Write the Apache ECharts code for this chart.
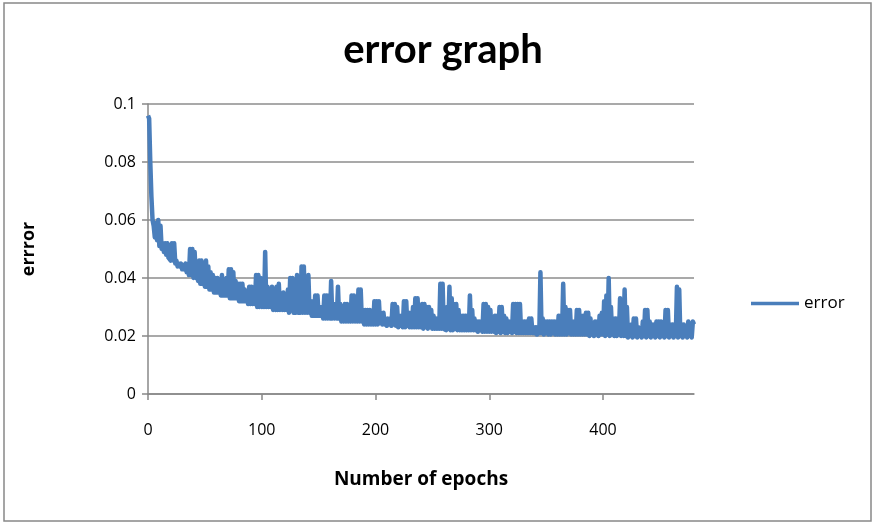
<!DOCTYPE html>
<html>
<head>
<meta charset="utf-8">
<script src="https://cdn.jsdelivr.net/npm/echarts@6/dist/echarts.min.js"></script>
<style>html,body{margin:0;padding:0;background:#fff}#chart{width:876px;height:525px}</style>
</head>
<body>
<div id="chart"></div>
<script>
// One value per epoch (0..480), 20 epochs per row
const xTickLabels = [0, 100, 200, 300, 400];
const yTickLabels = [0, 0.02, 0.04, 0.06, 0.08, 0.1];
const seriesName = 'error';
const errorValues = [
  0.096, 0.095, 0.080, 0.068, 0.060, 0.058, 0.054, 0.059, 0.053, 0.060, 0.051, 0.058, 0.050, 0.052, 0.049, 0.052, 0.048, 0.052, 0.047, 0.047,
  0.046, 0.052, 0.046, 0.052, 0.045, 0.046, 0.044, 0.045, 0.044, 0.045, 0.043, 0.044, 0.043, 0.045, 0.042, 0.044, 0.041, 0.050, 0.041, 0.050,
  0.040, 0.049, 0.040, 0.045, 0.039, 0.046, 0.038, 0.046, 0.038, 0.045, 0.037, 0.046, 0.037, 0.044, 0.036, 0.042, 0.036, 0.041, 0.035, 0.040,
  0.035, 0.040, 0.035, 0.039, 0.034, 0.041, 0.034, 0.039, 0.034, 0.040, 0.034, 0.043, 0.033, 0.043, 0.033, 0.042, 0.033, 0.039, 0.033, 0.038,
  0.032, 0.038, 0.032, 0.038, 0.032, 0.036, 0.032, 0.035, 0.031, 0.037, 0.031, 0.037, 0.031, 0.036, 0.031, 0.041, 0.030, 0.041, 0.030, 0.040,
  0.030, 0.036, 0.030, 0.049, 0.030, 0.037, 0.030, 0.036, 0.030, 0.037, 0.029, 0.035, 0.029, 0.037, 0.029, 0.038, 0.029, 0.034, 0.029, 0.035,
  0.029, 0.034, 0.029, 0.036, 0.028, 0.040, 0.029, 0.040, 0.028, 0.039, 0.028, 0.041, 0.028, 0.039, 0.028, 0.044, 0.028, 0.044, 0.028, 0.036,
  0.028, 0.041, 0.028, 0.032, 0.027, 0.032, 0.027, 0.034, 0.027, 0.034, 0.027, 0.030, 0.027, 0.030, 0.026, 0.034, 0.026, 0.034, 0.026, 0.034,
  0.026, 0.039, 0.026, 0.031, 0.026, 0.031, 0.026, 0.037, 0.026, 0.031, 0.025, 0.030, 0.025, 0.031, 0.025, 0.031, 0.025, 0.028, 0.025, 0.034,
  0.025, 0.034, 0.025, 0.030, 0.025, 0.036, 0.025, 0.036, 0.025, 0.029, 0.024, 0.029, 0.024, 0.029, 0.024, 0.029, 0.024, 0.027, 0.024, 0.032,
  0.024, 0.032, 0.024, 0.032, 0.0245, 0.027, 0.024, 0.028, 0.024, 0.026, 0.0235, 0.026, 0.024, 0.026, 0.0235, 0.031, 0.024, 0.031, 0.0235, 0.030,
  0.023, 0.027, 0.0235, 0.027, 0.023, 0.032, 0.023, 0.032, 0.0235, 0.028, 0.023, 0.028, 0.023, 0.030, 0.023, 0.033, 0.023, 0.033, 0.023, 0.030,
  0.023, 0.031, 0.0225, 0.031, 0.023, 0.030, 0.0225, 0.030, 0.023, 0.029, 0.0225, 0.027, 0.0225, 0.026, 0.0225, 0.026, 0.0225, 0.038, 0.0225, 0.038,
  0.0225, 0.023, 0.022, 0.030, 0.0225, 0.037, 0.022, 0.033, 0.022, 0.031, 0.0225, 0.031, 0.022, 0.029, 0.022, 0.027, 0.022, 0.027, 0.022, 0.027,
  0.022, 0.027, 0.022, 0.034, 0.022, 0.029, 0.022, 0.026, 0.022, 0.025, 0.0215, 0.025, 0.022, 0.025, 0.0215, 0.031, 0.0215, 0.031, 0.0215, 0.030,
  0.0215, 0.029, 0.0215, 0.026, 0.0215, 0.027, 0.021, 0.027, 0.0215, 0.030, 0.021, 0.030, 0.0215, 0.027, 0.021, 0.026, 0.021, 0.025, 0.0215, 0.025,
  0.021, 0.031, 0.0215, 0.031, 0.021, 0.031, 0.021, 0.031, 0.021, 0.025, 0.021, 0.025, 0.021, 0.025, 0.021, 0.026, 0.021, 0.026, 0.021, 0.023,
  0.021, 0.023, 0.0205, 0.023, 0.021, 0.042, 0.021, 0.026, 0.0205, 0.025, 0.021, 0.025, 0.0205, 0.025, 0.0205, 0.025, 0.021, 0.025, 0.0205, 0.025,
  0.0205, 0.027, 0.0205, 0.027, 0.0205, 0.038, 0.0205, 0.030, 0.0205, 0.029, 0.021, 0.029, 0.0205, 0.025, 0.0205, 0.025, 0.0205, 0.029, 0.0205, 0.029,
  0.0205, 0.027, 0.0205, 0.027, 0.0205, 0.028, 0.0205, 0.028, 0.020, 0.026, 0.0205, 0.023, 0.020, 0.025, 0.0205, 0.025, 0.020, 0.027, 0.0205, 0.028,
  0.0205, 0.032, 0.020, 0.034, 0.0205, 0.040, 0.020, 0.030, 0.0205, 0.026, 0.020, 0.026, 0.020, 0.026, 0.0205, 0.033, 0.020, 0.030, 0.020, 0.036,
  0.020, 0.030, 0.0195, 0.021, 0.020, 0.024, 0.0195, 0.026, 0.020, 0.026, 0.0195, 0.023, 0.020, 0.022, 0.0195, 0.025, 0.020, 0.029, 0.0195, 0.029,
  0.020, 0.025, 0.0195, 0.024, 0.020, 0.024, 0.0195, 0.025, 0.020, 0.025, 0.0195, 0.025, 0.020, 0.024, 0.0195, 0.029, 0.020, 0.029, 0.0195, 0.024,
  0.020, 0.024, 0.0195, 0.024, 0.020, 0.037, 0.0195, 0.036, 0.020, 0.024, 0.0195, 0.024, 0.020, 0.022, 0.0195, 0.025, 0.020, 0.022, 0.0195, 0.025,
  0.024
];
const xMax = 480;

const chart = echarts.init(document.getElementById('chart'), null, {renderer: 'canvas'});
const seriesData = errorValues.map((v, i) => [i, v]);
const TITLE_FONT = 'Lato, "Liberation Sans", sans-serif';
const FONT = '"Open Sans", "Liberation Sans", sans-serif';

chart.setOption({
  animation: false,
  backgroundColor: '#fff',
  title: {
    text: 'error graph',
    left: 438, top: 25, textAlign: 'center',
    textStyle: {fontFamily: TITLE_FONT, fontSize: 40, fontWeight: 'bold', color: '#000'}
  },
  legend: {
    data: [{name: seriesName, icon: 'rect'}],
    left: 746, top: 290,
    itemWidth: 48, itemHeight: 3.5, itemGap: 10,
    textStyle: {fontFamily: FONT, fontSize: 17, color: '#000'}
  },
  grid: {left: 148, right: 182, top: 104, bottom: 131, containLabel: false},
  xAxis: {
    type: 'value', min: 0, max: xMax, interval: 100,
    name: 'Number of epochs', nameLocation: 'middle', nameGap: 76,
    nameTextStyle: {fontFamily: FONT, fontSize: 19, fontWeight: 'bold', color: '#000', verticalAlign: 'top'},
    axisLine: {show: true, lineStyle: {color: '#888', width: 1.5}},
    axisTick: {show: true, inside: false, length: 6, lineStyle: {color: '#888', width: 1.5}, customValues: xTickLabels},
    axisLabel: {margin: 28, fontFamily: FONT, fontSize: 16, color: '#000', customValues: xTickLabels},
    splitLine: {show: false}
  },
  yAxis: {
    type: 'value', min: 0, max: 0.1, interval: 0.02,
    name: 'errror', nameLocation: 'middle', nameGap: 110, nameRotate: 90,
    nameTextStyle: {fontFamily: FONT, fontSize: 18, fontWeight: 'bold', color: '#000'},
    axisLine: {show: true, lineStyle: {color: '#888', width: 1.5}},
    axisTick: {show: true, inside: false, length: 6, lineStyle: {color: '#888', width: 1.5}},
    axisLabel: {margin: 12, fontFamily: FONT, fontSize: 16, color: '#000',
      formatter: v => String(+v.toFixed(2))},
    splitLine: {show: true, lineStyle: {color: '#8c8c8c', width: 1.5}}
  },
  series: [{
    name: seriesName,
    type: 'line',
    data: seriesData,
    symbol: 'none',
    showSymbol: false,
    lineStyle: {color: '#4a7ebb', width: 4.5, join: 'round'},
    itemStyle: {color: '#4a7ebb'}
  }],
  graphic: [{
    type: 'rect', silent: true, z: -1,
    shape: {x: 4, y: 3, width: 867, height: 518},
    style: {fill: 'none', stroke: '#888', lineWidth: 1.5}
  }]
});
</script>
</body>
</html>
